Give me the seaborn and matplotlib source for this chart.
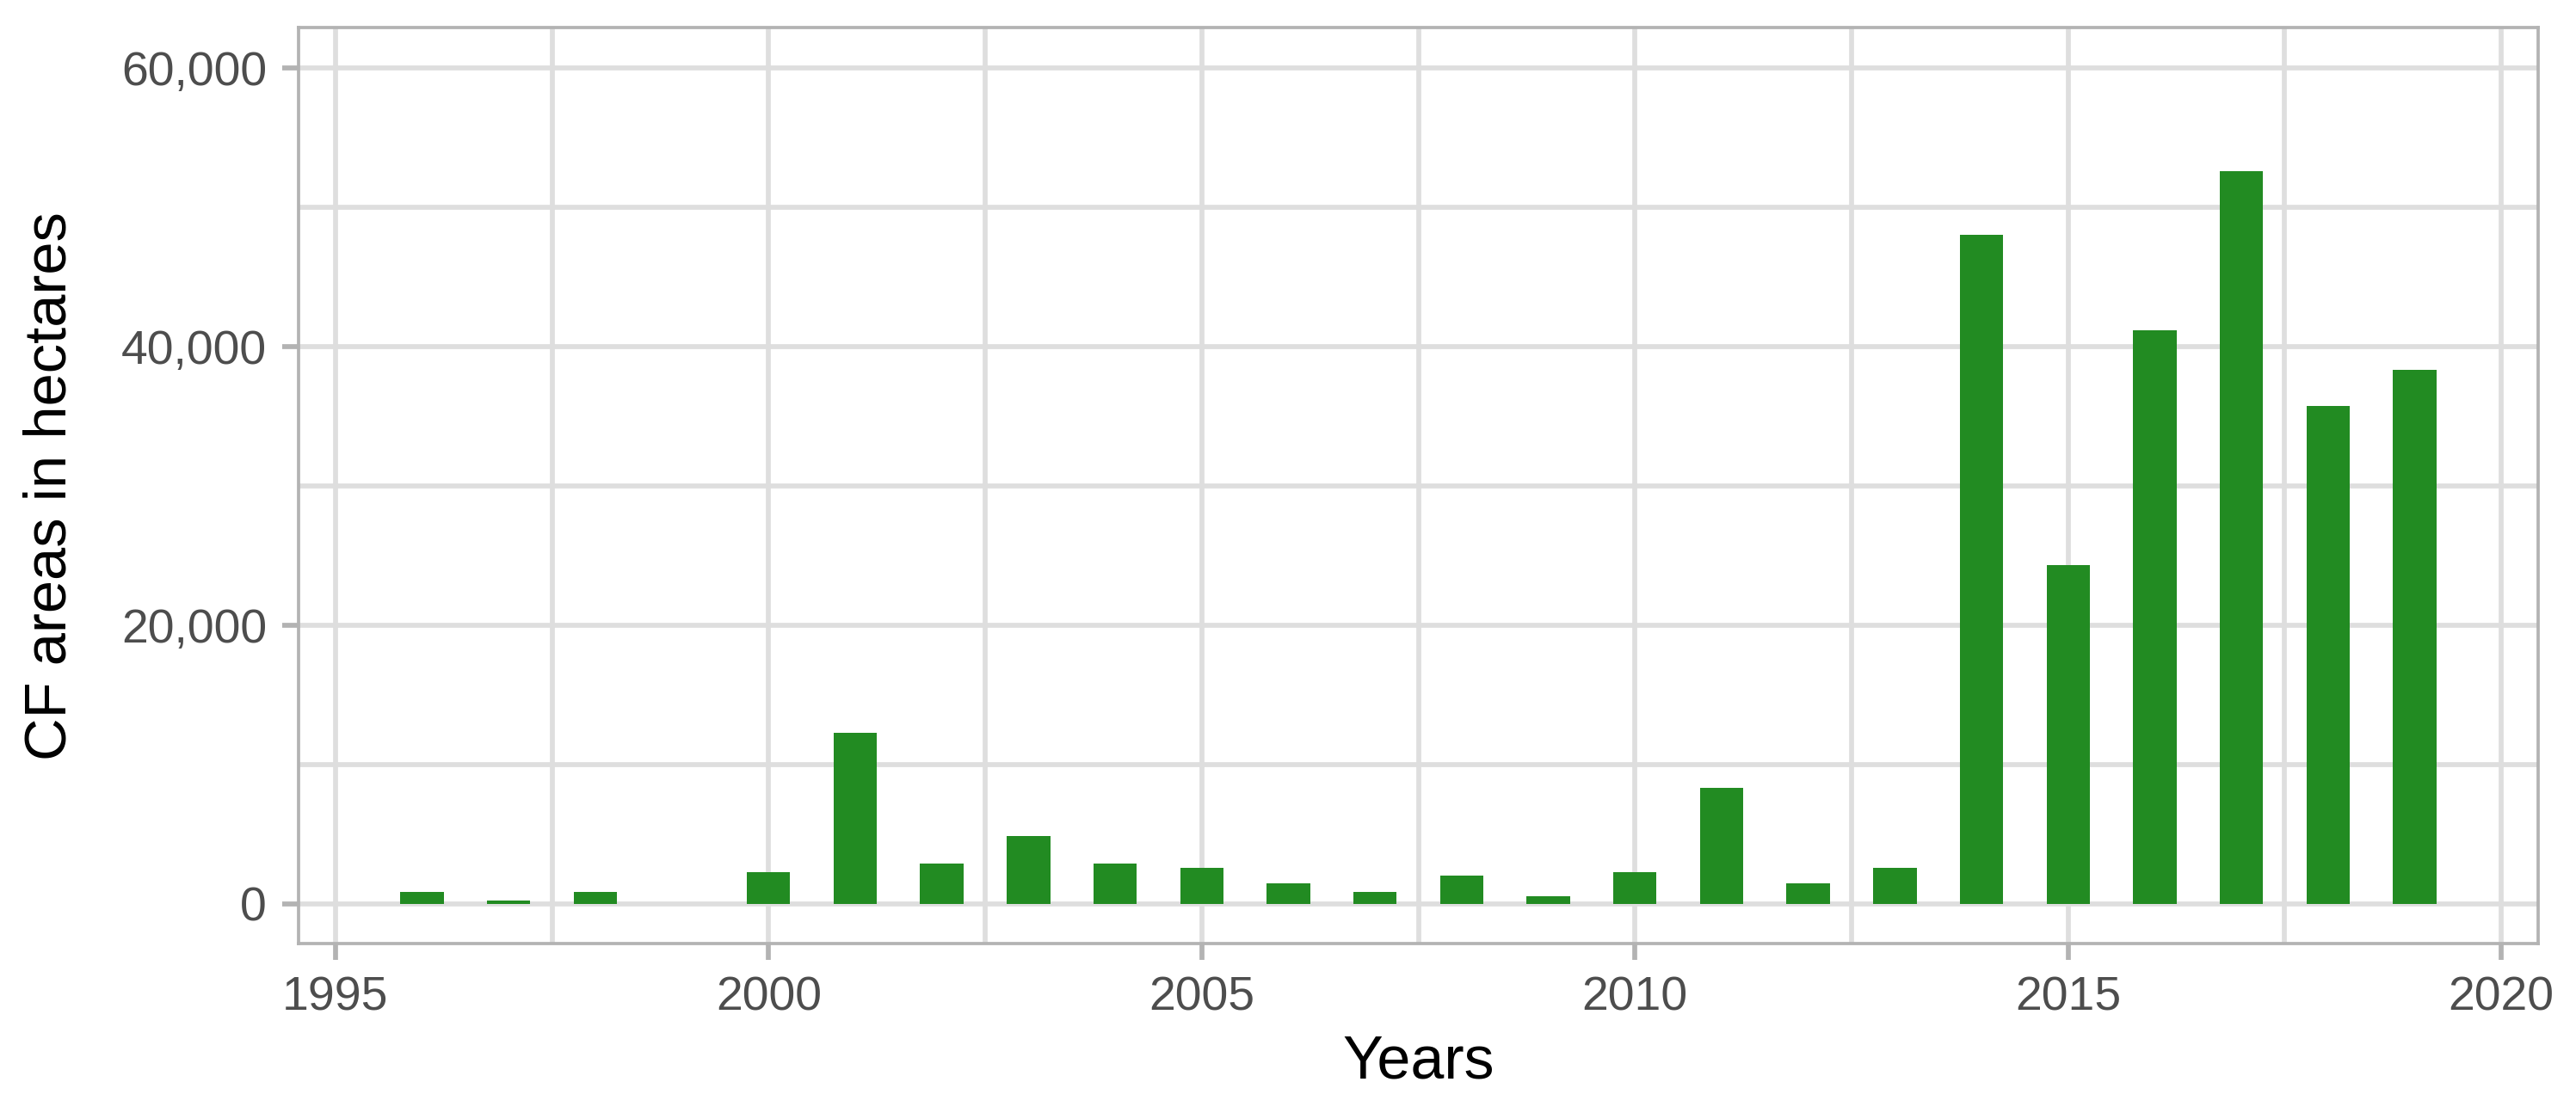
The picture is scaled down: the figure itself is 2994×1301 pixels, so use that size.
import numpy as np
import pandas as pd
import seaborn as sns
from matplotlib import pyplot as plt
from matplotlib.ticker import MultipleLocator, FuncFormatter

sns.set_style('white')
plt.rcParams['font.family'] = ['Liberation Sans', 'DejaVu Sans']

# CF areas handed over per year (hectares); no bar in 1999
years = [1996, 1997, 1998, 2000, 2001, 2002, 2003, 2004, 2005, 2006, 2007, 2008,
         2009, 2010, 2011, 2012, 2013, 2014, 2015, 2016, 2017, 2018, 2019]
area = [820, 250, 820, 2250, 12240, 2870, 4870, 2870, 2560, 1430, 820, 2000,
        560, 2250, 8300, 1430, 2560, 48000, 24280, 41140, 52560, 35700, 38320]

df = pd.DataFrame({'Years': years, 'area': area})

fig = plt.figure(figsize=(2995 / 300, 1301 / 300), dpi=300)
ax = fig.add_axes([347 / 2995, 1 - 1097 / 1301, (2950 - 347) / 2995, (1097 - 32.3) / 1301])

sns.barplot(data=df, x='Years', y='area', native_scale=True, width=0.5,
            color='#228B22', saturation=1, errorbar=None, linewidth=0, ax=ax)

ax.set_xlim(1994.575, 2020.425)
ax.set_ylim(-2860, 62860)

ax.xaxis.set_major_locator(MultipleLocator(5))
ax.xaxis.set_minor_locator(MultipleLocator(2.5))
ax.yaxis.set_major_locator(MultipleLocator(20000))
ax.yaxis.set_minor_locator(MultipleLocator(10000))
ax.yaxis.set_major_formatter(FuncFormatter(lambda v, p: f'{int(v):,}'))
ax.xaxis.set_major_formatter(FuncFormatter(lambda v, p: f'{int(v)}'))

ax.set_axisbelow(True)
ax.grid(which='both', color='#DEDEDE', linewidth=1.37)

for s in ax.spines.values():
    s.set_visible(True)
    s.set_color('#B3B3B3')
    s.set_linewidth(0.9)

ax.tick_params(which='major', length=4.6, width=1.37, color='#B3B3B3',
               labelsize=13.3, labelcolor='#4D4D4D', pad=4.3,
               bottom=True, left=True)
ax.tick_params(which='minor', length=0)

ax.set_xlabel('Years', fontsize=16.8, color='black', labelpad=4)
ax.set_ylabel('CF areas in hectares', fontsize=16.5, color='black', labelpad=12)

fig.savefig('out.png', dpi=300)
